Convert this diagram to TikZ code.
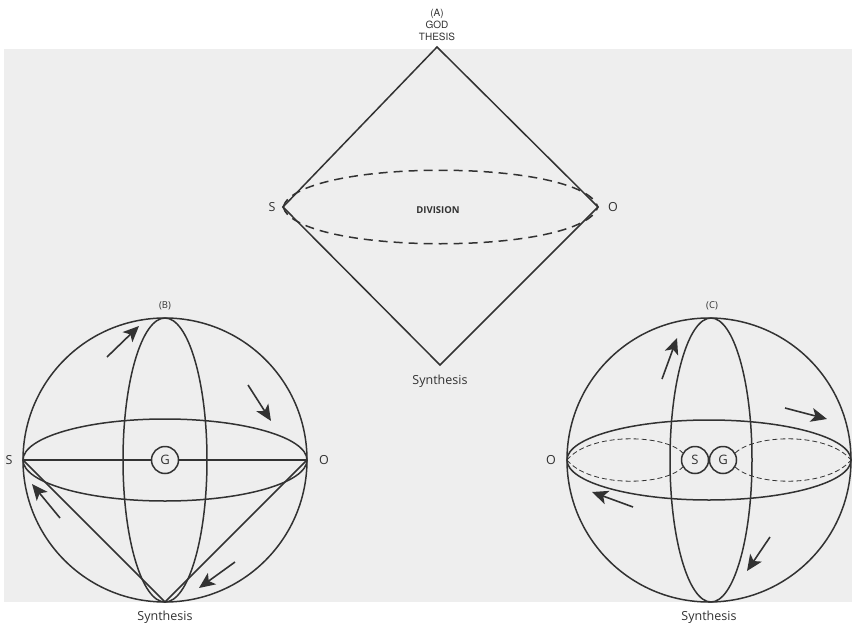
\documentclass[tikz,border=0pt]{standalone}
\usepackage{fontspec}
\setmainfont{Open Sans}
\newfontfamily\helv{TeX Gyre Heros}
\usetikzlibrary{arrows.meta}
\definecolor{ink}{RGB}{50,50,50}
\definecolor{paper}{RGB}{238,238,238}
\begin{document}
\begin{tikzpicture}[x=1pt,y=-1pt,
  line/.style={draw=ink, line width=1.5pt},
  dashline/.style={draw=ink, line width=1.5pt, dash pattern=on 9pt off 6pt},
  thindash/.style={draw=ink, line width=0.8pt, dash pattern=on 5pt off 3pt},
  arr/.style={draw=ink, line width=1.6pt, -{Stealth[length=16pt,width=14pt,inset=4pt]}},
  lbl/.style={text=ink, font=\fontsize{12.5}{14}\selectfont, inner sep=0pt},
  small/.style={text=ink, font=\fontsize{9.5}{11}\selectfont, inner sep=0pt},
  ring/.style={circle, draw=ink, line width=1.5pt, fill=paper, minimum size=27pt, inner sep=0pt, text=ink, font=\fontsize{13}{14}\selectfont}]
\useasboundingbox (0,0) rectangle (852,629);
\fill[white] (0,0) rectangle (852,629);
\fill[paper] (4,49) rectangle (852,602);

% ---------- (A) diamond ----------
\coordinate (At) at (437,47);
\coordinate (AS) at (283,207);
\coordinate (AO) at (598,207);
\coordinate (Ab) at (440,365);
\draw[line] (At) -- (AO) -- (Ab) -- (AS) -- cycle;
\draw[dashline] (AS) .. controls (298,158) and (583,158) .. (AO);
\draw[dashline] (AS) .. controls (298,256) and (583,256) .. (AO);
\node[align=center, text=ink, font=\helv\fontsize{10}{12}\selectfont, inner sep=0pt] (Atitle) at (437,25) {(A)\\GOD\\THESIS};
\node[lbl] (AlS) at (272,207) {S};
\node[lbl] (AlO) at (613,207) {O};
\node[text=ink, inner sep=0pt, font=\fontsize{9.5}{11}\selectfont\bfseries] (Adiv) at (438,210) {DIVISION};
\node[lbl] (Asyn) at (440,381) {Synthesis};

% ---------- (B) sphere ----------
\coordinate (Bc) at (165,460);
\coordinate (BS) at (23,460);
\coordinate (BO) at (307,460);
\coordinate (Bb) at (165,602);
\draw[line] (Bc) circle[radius=142];
\draw[line] (Bc) ellipse[x radius=42, y radius=142];
\draw[line] (Bc) ellipse[x radius=142, y radius=41];
\node[ring] (BG) at (Bc) {G};
\draw[line] (BS) -- (BG);
\draw[line] (BG) -- (BO);
\draw[line] (BS) -- (Bb);
\draw[line] (BO) -- (Bb);
\node[small] (Blbl) at (165,306) {(B)};
\node[lbl] (BlS) at (9,460) {S};
\node[lbl] (BlO) at (324,460) {O};
\node[lbl] (Bsyn) at (165,617) {Synthesis};
\coordinate (B1a) at (107,357); \coordinate (B1b) at (139,326);
\coordinate (B2a) at (248,385); \coordinate (B2b) at (271,421);
\coordinate (B3a) at (60,518);  \coordinate (B3b) at (32,484);
\coordinate (B4a) at (235,562); \coordinate (B4b) at (199,588);
\draw[arr] (B1a) -- (B1b);
\draw[arr] (B2a) -- (B2b);
\draw[arr] (B3a) -- (B3b);
\draw[arr] (B4a) -- (B4b);

% ---------- (C) sphere ----------
\coordinate (Cc) at (709,460);
\coordinate (CO) at (567,460);
\coordinate (CR) at (851,460);
\draw[line] (Cc) circle[radius=142];
\draw[line] (711,460) ellipse[x radius=41, y radius=142];
\draw[line] (Cc) ellipse[x radius=142, y radius=40];
\node[ring] (CS) at (695,460) {S};
\node[ring] (CG) at (723,460) {G};
\draw[thindash] (CO) .. controls (590,432) and (665,434) .. (CS.150);
\draw[thindash] (CO) .. controls (590,488) and (665,486) .. (CS.210);
\draw[thindash] (CG.30) .. controls (755,434) and (828,432) .. (CR);
\draw[thindash] (CG.330) .. controls (755,486) and (828,488) .. (CR);
\node[small] (Clbl) at (712,306) {(C)};
\node[lbl] (ClO) at (551,460) {O};
\node[lbl] (Csyn) at (709,617) {Synthesis};
\coordinate (C1a) at (662,379); \coordinate (C1b) at (677,338);
\coordinate (C2a) at (785,408); \coordinate (C2b) at (827,419);
\coordinate (C3a) at (633,507); \coordinate (C3b) at (592,492);
\coordinate (C4a) at (770,537); \coordinate (C4b) at (747,571);
\draw[arr] (C1a) -- (C1b);
\draw[arr] (C2a) -- (C2b);
\draw[arr] (C3a) -- (C3b);
\draw[arr] (C4a) -- (C4b);
\end{tikzpicture}
\end{document}
